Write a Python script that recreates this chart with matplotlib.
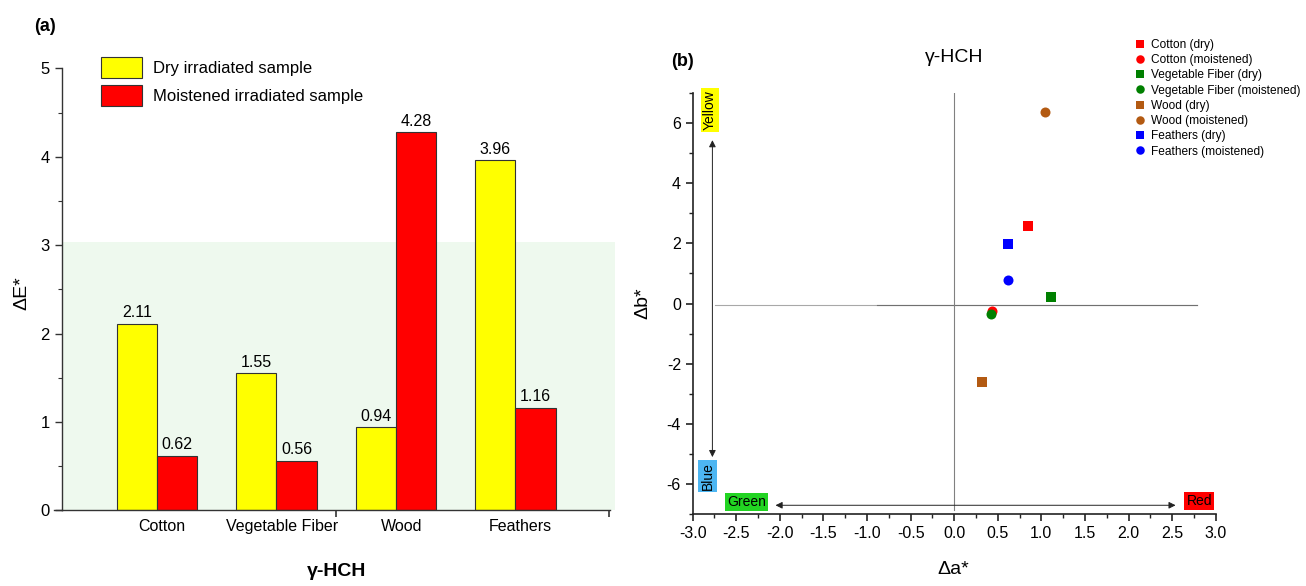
import matplotlib
matplotlib.use("Agg")
import matplotlib.pyplot as plt
import numpy as np
from matplotlib.patches import Rectangle
from matplotlib.ticker import MultipleLocator, FixedLocator, FormatStrFormatter

plt.rcParams['font.family'] = ['Liberation Sans', 'DejaVu Sans']
plt.rcParams['axes.unicode_minus'] = False

# panel (a) data
categories = ["Cotton", "Vegetable Fiber", "Wood", "Feathers"]
dry_values = [2.11, 1.55, 0.94, 3.96]
moist_values = [0.62, 0.56, 4.28, 1.16]

# panel (b) data
sample_names = ["Cotton (dry)", "Cotton (moistened)",
                "Vegetable Fiber (dry)", "Vegetable Fiber (moistened)",
                "Wood (dry)", "Wood (moistened)",
                "Feathers (dry)", "Feathers (moistened)"]
delta_a = [0.846, 0.437, 1.107, 0.425, 0.317, 1.038, 0.617, 0.619]
delta_b = [2.59, -0.24, 0.22, -0.33, -2.59, 6.37, 1.97, 0.79]
sample_colors = ["#FF0000", "#FF0000", "#008000", "#008000",
                 "#B35A12", "#B35A12", "#0000FF", "#0000FF"]
sample_markers = ["s", "o"] * 4

W, H = 1306, 586
fig = plt.figure(figsize=(W / 100, H / 100), dpi=100)


def px_axes(left, top, right, bottom):
    return fig.add_axes([left / W, 1 - bottom / H, (right - left) / W, (bottom - top) / H])


def fig_pos(x, y):
    return x / W, 1 - y / H


# ---------------- panel (a) ----------------
ax1 = px_axes(61.7, 68.5, 610, 510.3)
x = np.arange(len(categories))
bw = 0.336
xmin, xmax = -0.797, 3.792

ax1.add_patch(Rectangle((xmin, 0), 3.833 - xmin, 3.04, facecolor="#EEF9EE",
                        edgecolor="none", zorder=0, clip_on=False))

b1 = ax1.bar(x - bw / 2, dry_values, bw, color="#FFFF00", edgecolor="#333333",
             linewidth=0.8, label="Dry irradiated sample", zorder=2)
b2 = ax1.bar(x + bw / 2, moist_values, bw, color="#FF0000", edgecolor="#333333",
             linewidth=0.8, label="Moistened irradiated sample", zorder=2)

for xi, v in zip(x - bw / 2, dry_values):
    ax1.annotate(f"{v:.2f}", (xi, v), xytext=(0, 2.5), textcoords="offset points",
                 ha="center", va="bottom", fontsize=11.5)
for xi, v in zip(x + bw / 2, moist_values):
    ax1.annotate(f"{v:.2f}", (xi, v), xytext=(0, 2.5), textcoords="offset points",
                 ha="center", va="bottom", fontsize=11.5)

for xi, name in zip(x, categories):
    ax1.annotate(name, (xi + 0.045, 0), xycoords=("data", "axes fraction"),
                 xytext=(0, -12), textcoords="offset points",
                 ha="center", va="center", fontsize=11.5)

ax1.set_xlim(xmin, xmax)
ax1.set_ylim(0, 5)
ax1.spines["top"].set_visible(False)
ax1.spines["right"].set_visible(False)
for s in ["left", "bottom"]:
    ax1.spines[s].set_color("#333333")
    ax1.spines[s].set_linewidth(1)
ax1.xaxis.set_major_locator(FixedLocator([1.5, 3.785]))
ax1.set_xticklabels([])
ax1.yaxis.set_major_locator(MultipleLocator(1))
ax1.yaxis.set_minor_locator(MultipleLocator(0.5))
ax1.tick_params(axis="y", which="major", length=5, width=1, labelsize=12, color="#333333")
ax1.tick_params(axis="y", which="minor", length=3, width=0.8, color="#333333")
ax1.tick_params(axis="x", which="major", length=5, width=1.2, color="#333333")
ax1.set_facecolor("none")
# axis line overhang to the left of the y axis
ax1.plot([-0.865, xmin], [0, 0], color="#333333", lw=1, clip_on=False)

ax1.legend(loc="upper left", bbox_to_anchor=fig_pos(100.7, 57.3), bbox_transform=fig.transFigure,
           frameon=False, fontsize=12, handlelength=2.5, handleheight=1.52,
           labelspacing=0.44, handletextpad=0.66, borderpad=0, borderaxespad=0)

fig.text(*fig_pos(45, 26.5), "(a)", fontsize=13, fontweight="bold", ha="center", va="center")
fig.text(*fig_pos(22, 293), "ΔE*", fontsize=14, rotation=90, ha="center", va="center")
fig.text(*fig_pos(336.8, 571.7), "γ-HCH", fontsize=14, fontweight="bold", ha="center", va="center")

# ---------------- panel (b) ----------------
ax2 = px_axes(692.7, 92.9, 1215.7, 514.3)

# crosshair through origin
ax2.plot([-2.74, 2.79], [-0.04, -0.04], color="#a8a8a8", lw=0.8, zorder=1)
ax2.plot([-0.89, 2.79], [-0.04, -0.04], color="#707070", lw=0.8, zorder=1)
ax2.plot([0, 0], [-6.85, 7], color="#808080", lw=0.8, zorder=1)

# colour direction arrows
ax2.annotate("", xy=(-2.774, 5.43), xytext=(-2.774, -5.1),
             arrowprops=dict(arrowstyle="<|-|>", color="#222222", lw=0.7,
                             mutation_scale=10, shrinkA=0, shrinkB=0))
ax2.annotate("", xy=(2.54, -6.7), xytext=(-2.05, -6.7),
             arrowprops=dict(arrowstyle="<|-|>", color="#222222", lw=0.7,
                             mutation_scale=10, shrinkA=0, shrinkB=0))

box = dict(boxstyle="square,pad=0.15", ec="none")
ax2.text(-2.806, 6.43, "Yellow", rotation=90, ha="center", va="center", fontsize=10,
         bbox=dict(box, fc="#FFFF00"))
ax2.text(-2.83, -5.72, "Blue", rotation=90, ha="center", va="center", fontsize=10,
         bbox=dict(box, fc="#4DB6F2"))
ax2.text(-2.385, -6.6, "Green", ha="center", va="center", fontsize=10,
         bbox=dict(box, fc="#22D422"))
ax2.text(2.81, -6.55, "Red", ha="center", va="center", fontsize=10,
         bbox=dict(box, fc="#FF0000"))

for a, b, c, m, name in zip(delta_a, delta_b, sample_colors, sample_markers, sample_names):
    ax2.plot(a, b, ls="none", marker=m, color=c, markersize=6.5 if m == "s" else 7.2,
             markeredgewidth=0, label=name, zorder=3)

ax2.set_xlim(-3, 3)
ax2.set_ylim(-7, 7)
ax2.spines["top"].set_visible(False)
ax2.spines["right"].set_visible(False)
for s in ["left", "bottom"]:
    ax2.spines[s].set_color("#222222")
    ax2.spines[s].set_linewidth(1.2)
ax2.xaxis.set_major_locator(MultipleLocator(0.5))
ax2.xaxis.set_minor_locator(MultipleLocator(0.25))
ax2.xaxis.set_major_formatter(FormatStrFormatter("%.1f"))
ax2.yaxis.set_major_locator(MultipleLocator(2))
ax2.yaxis.set_minor_locator(MultipleLocator(1))
ax2.tick_params(which="major", length=5, width=1.2, labelsize=11.5, color="#222222")
ax2.tick_params(which="minor", length=3, width=1, color="#222222")

ax2.legend(loc="upper left", bbox_to_anchor=fig_pos(1135, 39), bbox_transform=fig.transFigure,
           frameon=False, fontsize=8.6, handlelength=0.9, handletextpad=0.45,
           labelspacing=0.27, borderpad=0, borderaxespad=0, markerscale=0.85)

fig.text(*fig_pos(682, 61), "(b)", fontsize=13, fontweight="bold", ha="center", va="center")
fig.text(*fig_pos(954, 58), "γ-HCH", fontsize=14, ha="center", va="center")
fig.text(*fig_pos(643, 303), "Δb*", fontsize=14, rotation=90, ha="center", va="center")
fig.text(*fig_pos(953.5, 569), "Δa*", fontsize=14, ha="center", va="center")

fig.savefig("out.png", dpi=100)
